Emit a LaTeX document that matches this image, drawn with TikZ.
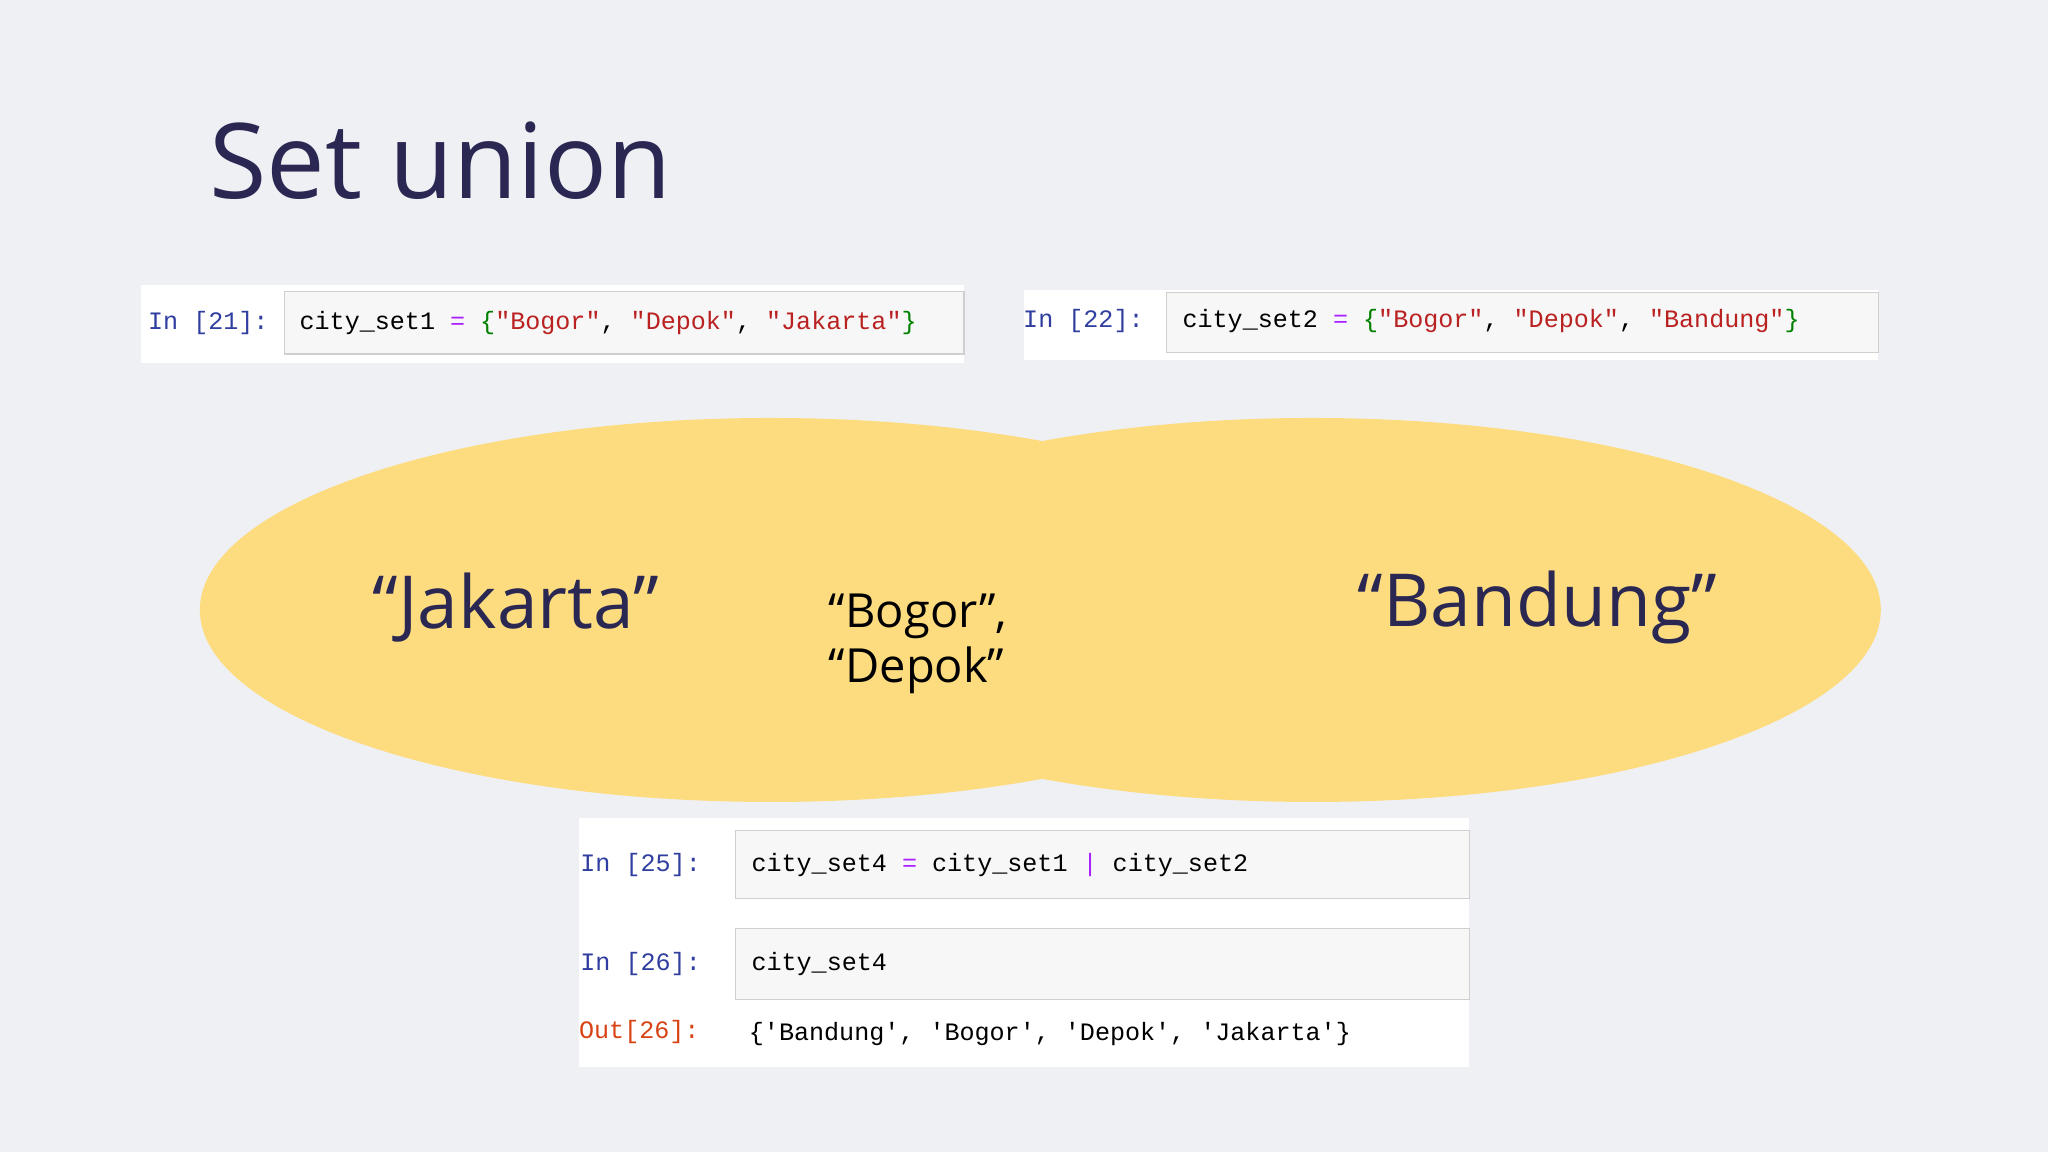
\documentclass[tikz,border=0pt]{standalone}
\usepackage{fontspec}
\setmainfont{Open Sans}
\setmonofont{Liberation Mono}
\definecolor{bg}{HTML}{EEF0F4}
\definecolor{venn}{HTML}{FDDC7F}
\definecolor{navy}{HTML}{2A2852}
\definecolor{inblue}{HTML}{303F9F}
\definecolor{outred}{HTML}{D84315}
\definecolor{op}{HTML}{AA22FF}
\definecolor{str}{HTML}{BA2121}
\definecolor{brk}{HTML}{008000}
\definecolor{cellbg}{HTML}{F7F7F7}
\definecolor{cellbd}{HTML}{CFCFCF}
\tikzset{
 cell/.style={fill=white,draw=none},
 inbox/.style={fill=cellbg,draw=cellbd,line width=0.5pt},
 prompt/.style={anchor=west,font=\ttfamily\fontsize{9.6}{11}\selectfont,inner sep=0},
 code/.style={anchor=west,font=\ttfamily\fontsize{9.6}{11}\selectfont,inner sep=0},
 big/.style={font=\fontsize{28}{32}\selectfont,text=navy},
}
\newcommand{\Op}[1]{\textcolor{op}{#1}}
\newcommand{\St}[1]{\textcolor{str}{#1}}
\newcommand{\Br}[1]{\textcolor{brk}{#1}}
\begin{document}
\begin{tikzpicture}[x=0.5pt,y=-0.5pt]
\fill[bg] (0,0) rectangle (1568,882);
\useasboundingbox (0,0) rectangle (1568,882);
\node[anchor=base west,inner sep=0,font=\fontsize{40}{44}\selectfont,text=navy] (title) at (160,152) {Set union};
% code cells top
\fill[cell] (108,218) rectangle (738,278);
\draw[inbox] (218,223) rectangle (738,271);
\node[prompt,text=inblue] (p21) at (113,247) {In [21]:};
\node[code] (c21) at (229,247) {city\_set1 \Op{=} \Br{\{}\St{"Bogor"}, \St{"Depok"}, \St{"Jakarta"}\Br{\}}};
\fill[cell] (784,222) rectangle (1438,276);
\draw[inbox] (893,224) rectangle (1438,270);
\node[prompt,text=inblue] (p22) at (783,246) {In [22]:};
\node[code] (c22) at (905,246) {city\_set2 \Op{=} \Br{\{}\St{"Bogor"}, \St{"Depok"}, \St{"Bandung"}\Br{\}}};
% venn
\fill[venn] (590,467) ellipse [x radius=437,y radius=147];
\fill[venn] (1005,467) ellipse [x radius=435,y radius=147];
\node[big] (jak) at (395,465) {“Jakarta”};
\node[big] (ban) at (1177,465) {“Bandung”};
\node[align=left,font=\fontsize{18}{21}\selectfont,text=black] (mid) at (703,493) {“Bogor”,\\“Depok”};
% bottom cells
\fill[cell] (443,626) rectangle (1125,817);
\draw[inbox] (563,636) rectangle (1125,688);
\draw[inbox] (563,711) rectangle (1125,765);
\node[prompt,text=inblue] (p25) at (444,662) {In [25]:};
\node[code] (c25) at (575,662) {city\_set4 \Op{=} city\_set1 \Op{|} city\_set2};
\node[prompt,text=inblue] (p26) at (444,738) {In [26]:};
\node[code] (c26) at (575,738) {city\_set4};
\node[prompt,text=outred] (o26) at (443,790) {Out[26]:};
\node[code] (r26) at (573,792) {\{'Bandung', 'Bogor', 'Depok', 'Jakarta'\}};
\end{tikzpicture}
\end{document}
